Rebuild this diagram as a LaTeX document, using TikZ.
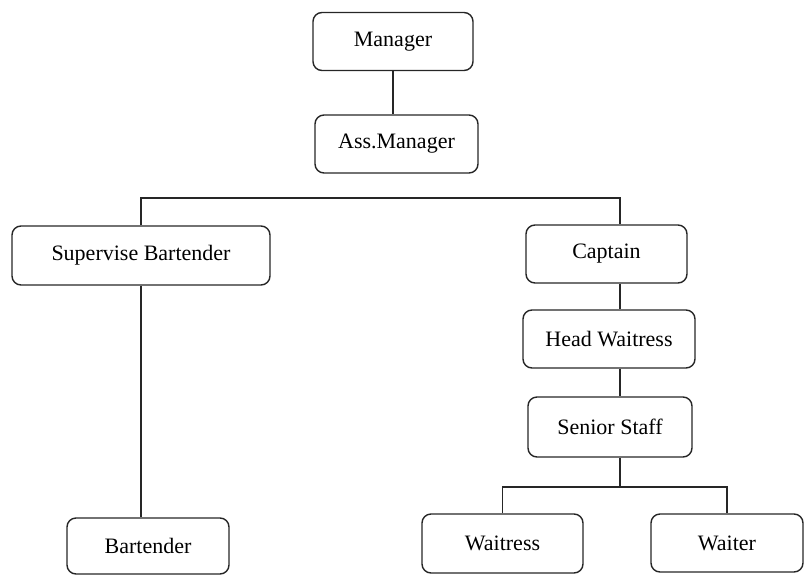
\documentclass[tikz,border=0pt]{standalone}
\usepackage{fontspec}
\setmainfont{Liberation Serif}
\usepackage{tikz}
\usetikzlibrary{positioning,calc}
\definecolor{LineGray}{HTML}{262626}

\begin{document}
\begin{tikzpicture}[
        x=1pt, y=-1pt,
        font=\fontsize{22}{26}\selectfont,
        orgbox/.style={
            draw=LineGray,
            line width=1.4pt,
            rounded corners=9pt,
            align=center,
            inner sep=0pt,
            minimum height=58pt
        },
        link/.style={line width=1.4pt, draw=LineGray}
    ]
        \useasboundingbox (0,0) rectangle (806,576);

        % top of the chart
        \node[orgbox, minimum width=160pt] (mgr) at (393,41.5) {Manager};
        \node[orgbox, minimum width=163pt] (amgr) at (396.5,144) {Ass.Manager};

        % left branch
        \node[orgbox, minimum width=258pt, minimum height=59pt] (supbar) at (141,255.5) {Supervise Bartender};
        \node[orgbox, minimum width=162pt, minimum height=56pt] (bartender) at (148,546) {Bartender};

        % right branch
        \node[orgbox, minimum width=161pt] (captain) at (606.5,254) {Captain};
        \node[orgbox, minimum width=172pt] (headw) at (609,339) {Head Waitress};
        \node[orgbox, minimum width=164pt, minimum height=60pt] (senior) at (610,427) {Senior Staff};
        \node[orgbox, minimum width=161pt, minimum height=59pt] (waitress) at (502.5,543.5) {Waitress};
        \node[orgbox, minimum width=152pt] (waiter) at (727,543) {Waiter};

        \coordinate (spine) at (620,198);
        \coordinate (lowbus) at (620,487);

        \draw[link] (mgr.south) -- (mgr.south |- amgr.north);
        \draw[link] (supbar.north) |- (spine) -- (spine |- captain.north);
        \draw[link] (supbar.south) -- (supbar.south |- bartender.north);
        \draw[link] (spine |- captain.south) -- (spine |- headw.north);
        \draw[link] (spine |- headw.south) -- (spine |- senior.north);
        \draw[link] (spine |- senior.south) -- (lowbus);
        \draw[link] (waitress.north) |- (lowbus) -| (waiter.north);
    \end{tikzpicture}
\end{document}
